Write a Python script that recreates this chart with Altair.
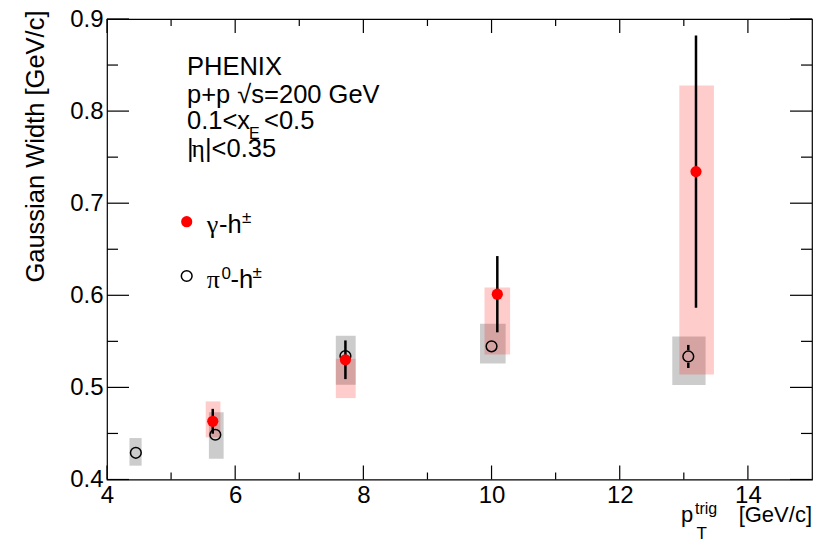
import altair as alt
import pandas as pd

FONT = "Liberation Sans"
GREEK = "Liberation Serif"

# pi0-h± (open circles)
pi_x = [4.45, 5.69, 7.72, 10.00, 13.07]
pi_y = [0.429, 0.4486, 0.534, 0.5446, 0.5336]
pi_err = [0.003, 0.004, 0.006, 0.005, 0.0125]
pi_sys_lo = [0.415, 0.4226, 0.503, 0.526, 0.5027]
pi_sys_hi = [0.445, 0.473, 0.556, 0.569, 0.5553]
pi_box_lo = [4.35, 5.59, 7.57, 9.82, 12.82]
pi_box_hi = [4.54, 5.82, 7.88, 10.22, 13.34]

# gamma-h± (red filled)
g_x = [5.65, 7.72, 10.09, 13.19]
g_y = [0.4632, 0.530, 0.6012, 0.7343]
g_err = [0.0135, 0.021, 0.0414, 0.1477]
g_sys_lo = [0.4457, 0.4884, 0.5358, 0.514]
g_sys_hi = [0.4848, 0.531, 0.6086, 0.8278]
g_box_lo = [5.54, 7.57, 9.89, 12.93]
g_box_hi = [5.77, 7.88, 10.29, 13.47]

x_major = [4, 6, 8, 10, 12, 14]
x_minor = [5, 7, 9, 11, 13]
y_major = [0.4, 0.5, 0.6, 0.7, 0.8, 0.9]
y_minor = [0.45, 0.55, 0.65, 0.75, 0.85]

W, H = 705, 460.5

pi_df = pd.DataFrame({"x": pi_x, "y": pi_y, "err": pi_err, "slo": pi_sys_lo,
                      "shi": pi_sys_hi, "blo": pi_box_lo, "bhi": pi_box_hi})
g_df = pd.DataFrame({"x": g_x, "y": g_y, "err": g_err, "slo": g_sys_lo,
                     "shi": g_sys_hi, "blo": g_box_lo, "bhi": g_box_hi})
one = pd.DataFrame({"k": [0]})

xs = alt.Scale(domain=[4, 15], nice=False, zero=False)
ys = alt.Scale(domain=[0.4, 0.9], nice=False, zero=False)

YTITLE = "Gaussian Width [GeV/c]"
xaxis = alt.Axis(values=x_major, format="d", title=None, grid=False, ticks=False,
                 tickSize=0, domain=False, labelFont=FONT, labelFontSize=24,
                 labelColor="black", labelPadding=3.5, labelFlush=False)
yaxis = alt.Axis(values=y_major, format=".1f", title=YTITLE,
                 grid=False, ticks=False, tickSize=0, domain=False, labelFont=FONT,
                 labelFontSize=24, labelColor="black", labelPadding=4,
                 labelFlush=False, titleFont=FONT, titleFontSize=25.5,
                 titleFontWeight="normal", titleColor="black", titleAngle=270,
                 titleAlign="right", titleBaseline="alphabetic", titleX=-64, titleY=-9)


def X(f):
    return alt.X(f, scale=xs, axis=xaxis, title=None)


def Y(f):
    return alt.Y(f, scale=ys, axis=yaxis, title=YTITLE)


gray = alt.Chart(pi_df).mark_rect(color="black", opacity=0.2, strokeWidth=0).encode(
    x=X("blo:Q"), x2="bhi", y=Y("slo:Q"), y2="shi")

pink = alt.Chart(g_df).mark_rect(color="red", opacity=0.2, strokeWidth=0).encode(
    x=X("blo:Q"), x2="bhi", y=Y("slo:Q"), y2="shi")

gap = 0.0068
pi_up = alt.Chart(pi_df).transform_filter(f"datum.err > {gap}").transform_calculate(
    a=f"datum.y + {gap}", b="datum.y + datum.err").mark_rule(
    color="black", strokeWidth=2.5).encode(x=X("x:Q"), y=Y("a:Q"), y2="b:Q")
pi_dn = alt.Chart(pi_df).transform_filter(f"datum.err > {gap}").transform_calculate(
    a=f"datum.y - {gap}", b="datum.y - datum.err").mark_rule(
    color="black", strokeWidth=2.5).encode(x=X("x:Q"), y=Y("a:Q"), y2="b:Q")

pi_pts = alt.Chart(pi_df).mark_point(shape="circle", filled=False, color="black",
                                     strokeWidth=1.5, size=115, opacity=1).encode(
    x=X("x:Q"), y=Y("y:Q"))

g_bars = alt.Chart(g_df).transform_calculate(
    a="datum.y - datum.err", b="datum.y + datum.err").mark_rule(
    color="black", strokeWidth=2.5).encode(x=X("x:Q"), y=Y("a:Q"), y2="b:Q")

g_pts = alt.Chart(g_df).mark_point(shape="circle", filled=True, color="red",
                                   size=125, opacity=1).encode(
    x=X("x:Q"), y=Y("y:Q"))


def xticks(vals, length):
    df = pd.DataFrame({"v": vals})
    bot = alt.Chart(df).mark_rule(color="black", strokeWidth=1.2).encode(
        x=X("v:Q"), y=alt.value(H), y2=alt.value(H - length))
    top = alt.Chart(df).mark_rule(color="black", strokeWidth=1.2).encode(
        x=X("v:Q"), y=alt.value(0), y2=alt.value(length))
    return [bot, top]


def yticks(vals, length):
    df = pd.DataFrame({"v": vals})
    left = alt.Chart(df).mark_rule(color="black", strokeWidth=1.2).encode(
        y=Y("v:Q"), x=alt.value(0), x2=alt.value(length))
    right = alt.Chart(df).mark_rule(color="black", strokeWidth=1.2).encode(
        y=Y("v:Q"), x=alt.value(W), x2=alt.value(W - length))
    return [left, right]


def txt(s, x, y, size, align="left", font=FONT):
    return alt.Chart(one).mark_text(text=s, font=font, fontSize=size, align=align,
                                    baseline="alphabetic", color="black").encode(
        x=alt.value(x), y=alt.value(y))


texts = [
    txt("PHENIX", 80, 56, 25.5),
    txt("p+p  √s=200 GeV", 80, 83.7, 25.5),
    txt("0.1<x", 80, 110.3, 25.5),
    txt("E", 142, 120, 16),
    txt("<0.5", 157, 110.3, 25.5),
    txt("|", 80, 137.7, 25.5),
    txt("η", 84.5, 137.7, 25.5, font=GREEK),
    txt("|<0.35", 98, 137.7, 25.5),
    # legend
    txt("γ", 99.7, 214.3, 26, font=GREEK),
    txt("-h", 112, 214.3, 25.5),
    txt("±", 135, 204, 17),
    txt("π", 99.7, 269.3, 26, font=GREEK),
    txt("0", 114.5, 260, 17),
    txt("-h", 123.5, 269.3, 25.5),
    txt("±", 145.5, 259, 17),
    # x title
    txt("p", 574, 503, 22),
    txt("trig", 588, 495, 16),
    txt("T", 589.5, 520, 17),
    txt("[GeV/c]", 705, 503, 22, align="right"),
]

leg_red = alt.Chart(one).mark_point(shape="circle", filled=True, color="red",
                                    size=125, opacity=1).encode(
    x=alt.value(79.7), y=alt.value(202.7))
leg_open = alt.Chart(one).mark_point(shape="circle", filled=False, color="black",
                                     strokeWidth=1.5, size=115, opacity=1).encode(
    x=alt.value(79.7), y=alt.value(257))

layers = [gray, pink, pi_up, pi_dn, pi_pts, g_bars, g_pts]
layers += xticks(x_major, 14) + xticks(x_minor, 7)
layers += yticks(y_major, 22) + yticks(y_minor, 11)
layers += texts + [leg_red, leg_open]

chart = alt.layer(*layers).properties(
    width=W, height=H,
    padding={"left": 99, "top": 11, "right": 10, "bottom": 62},
    autosize=alt.AutoSizeParams(type="none"),
    background="white",
).configure_view(stroke="black", strokeWidth=1.2)

chart.save("out.html", embed_options={"renderer": "svg", "actions": False})
